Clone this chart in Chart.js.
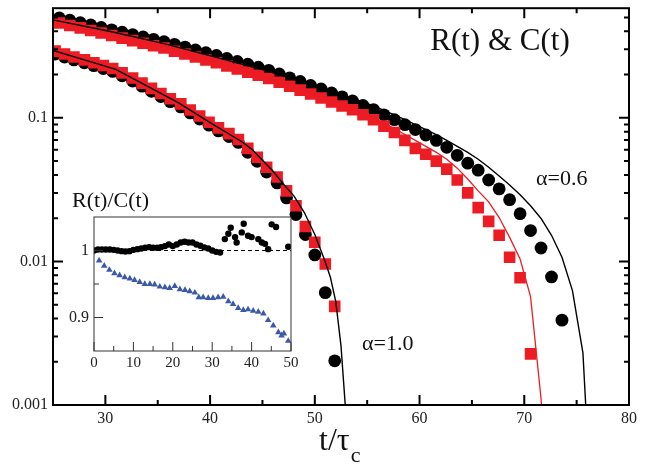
<!DOCTYPE html>
<html>
<head>
<meta charset="utf-8">
<script src="https://cdn.jsdelivr.net/npm/chart.js@4.4.1/dist/chart.umd.min.js"></script>
<style>
  html, body { margin: 0; padding: 0; background: #fff; }
  #wrap { position: relative; width: 658px; height: 468px; }
  #main { position: absolute; left: 0; top: 0; }
  #inset { position: absolute; left: 60px; top: 185px; }
</style>
</head>
<body>
<div id="wrap">
  <canvas id="main" width="658" height="468"></canvas>
  <canvas id="inset" width="240" height="195"></canvas>
</div>
<script>
// --- main panel: R(t) and C(t), log scale ---
const xTicks = [30, 40, 50, 60, 70, 80];
const xMinor = [35, 45, 55, 65, 75];
const yTicks = [0.001, 0.01, 0.1];
const yTickLabels = ['0.001', '0.01', '0.1'];

// alpha = 0.6
const tCirc06 = [25.6, 26.6, 27.6, 28.6, 29.6, 30.6, 31.6, 32.6, 33.6, 34.6, 35.6, 36.6, 37.6, 38.6, 39.6, 40.6, 41.6,
  42.6, 43.6, 44.6, 45.6, 46.6, 47.6, 48.6, 49.6, 50.6, 51.6, 52.6, 53.6, 54.6, 55.6, 56.6, 57.6, 58.6, 59.6, 60.6,
  61.6, 62.6, 63.6, 64.6, 65.6, 66.6, 67.6, 68.6, 69.6, 70.6, 71.6, 72.6, 73.6];
const circ06 = [0.496, 0.478, 0.460, 0.443, 0.426, 0.410, 0.395, 0.380, 0.366, 0.352, 0.339, 0.325, 0.311, 0.297,
  0.284, 0.272, 0.259, 0.247, 0.236, 0.225, 0.214, 0.202, 0.190, 0.179, 0.168, 0.159, 0.149, 0.140, 0.131, 0.122,
  0.114, 0.105, 0.0970, 0.0896, 0.0828, 0.0759, 0.0696, 0.0623, 0.0548, 0.0483, 0.0432, 0.0369, 0.0320, 0.0269,
  0.0215, 0.0164, 0.0124, 0.0078, 0.0039];
const tSq06 = tCirc06.slice(0, 46);
const sq06 = [0.458, 0.440, 0.423, 0.406, 0.390, 0.374, 0.359, 0.345, 0.331, 0.318, 0.306, 0.291, 0.278, 0.265,
  0.253, 0.242, 0.230, 0.219, 0.208, 0.198, 0.188, 0.177, 0.166, 0.156, 0.1465, 0.1375, 0.129, 0.121, 0.1137,
  0.105, 0.097, 0.0875, 0.079, 0.0696, 0.0613, 0.0557, 0.0499, 0.0439, 0.0369, 0.0300, 0.0237, 0.0190, 0.0152,
  0.0107, 0.0077, 0.00227];
const tFitBlack06 = [25, 30.6, 35.6, 40.6, 45.6, 50.6, 51.6, 52.6, 53.6, 54.6, 55.6, 56.6, 57.6, 58.6, 59.6, 60.6,
  61.6, 62.6, 63.6, 64.6, 65.6, 66.6, 67.6, 68.6, 69.6, 70.6, 71.6, 72.6, 73.6, 74.6, 75.6, 76.6];
const fitBlack06 = [0.481, 0.3975, 0.3286, 0.2633, 0.2109, 0.1611, 0.1524, 0.1442, 0.1364, 0.1290, 0.1211, 0.1128,
  0.1050, 0.0970, 0.0896, 0.0828, 0.0765, 0.0696, 0.0632, 0.0575, 0.0515, 0.0453, 0.0393, 0.0341, 0.0291, 0.0244,
  0.0199, 0.0152, 0.0107, 0.00626, 0.00231, 0.0001];
const tFitRed06 = [25, 30.6, 35.6, 40.6, 45.6, 50.6, 53.6, 54.6, 55.6, 56.6, 57.6, 58.6, 59.6, 60.6, 61.6, 62.6,
  63.6, 64.6, 65.6, 66.6, 67.6, 68.6, 69.6, 70.6, 71.6, 72.6];
const fitRed06 = [0.4658, 0.3791, 0.3133, 0.2471, 0.1918, 0.1419, 0.1164, 0.1084, 0.1001, 0.0918, 0.0841, 0.0765,
  0.0696, 0.0632, 0.0575, 0.0515, 0.0446, 0.0375, 0.0310, 0.0260, 0.0202, 0.0147, 0.0104, 0.00569, 0.00111, 0.0001];

// alpha = 1.0
const t10 = [25.2, 26.1, 27.0, 28.0, 28.9, 29.8, 30.7, 31.6, 32.6, 33.5, 34.4, 35.3, 36.2, 37.2, 38.1, 39.0, 39.9,
  40.8, 41.8, 42.7, 43.6, 44.5, 45.4, 46.4, 47.3, 48.2, 49.1, 50.0, 51.0, 51.9];
const sq10 = [0.2914, 0.2783, 0.2653, 0.2534, 0.2420, 0.2312, 0.2208, 0.2056, 0.1894, 0.1744, 0.1603, 0.1476,
  0.1359, 0.1250, 0.1135, 0.1029, 0.0932, 0.0851, 0.0776, 0.0707, 0.0613, 0.0531, 0.0453, 0.0387, 0.0310, 0.0244,
  0.0175, 0.0136, 0.0096, 0.00486];
const circ10 = [0.2779, 0.2653, 0.2531, 0.2416, 0.2308, 0.2204, 0.2105, 0.1961, 0.1805, 0.1662, 0.1529, 0.1408,
  0.1297, 0.1192, 0.1082, 0.0981, 0.0889, 0.0811, 0.0740, 0.0674, 0.0575, 0.0498, 0.0419, 0.0352, 0.0277, 0.0212,
  0.0154, 0.0111, 0.00606, 0.00203];
const tFit10 = [25, 28, 31, 34, 37, 40, 43, 44, 45, 46, 47, 48, 49, 50, 51, 51.5, 52, 52.5, 53];
const fit10 = [0.2942, 0.2531, 0.2177, 0.1662, 0.1270, 0.0925, 0.0684, 0.0603, 0.0507, 0.0426, 0.0346, 0.0286,
  0.0219, 0.0154, 0.0099, 0.00769, 0.00525, 0.00258, 0.0008];

// --- inset: R(t)/C(t) ---
const insetXTicks = [0, 10, 20, 30, 40, 50];
const insetXMinor = [5, 15, 25, 35, 45];
const insetYTicks = [0.9, 1];
const insetYTickLabels = ['0.9', '1'];
const insetYMinor = [0.95];
const tRatio06 = [0, 1, 2, 3, 4, 5, 6, 7, 8, 9, 10, 11, 12, 13, 14, 15, 16, 17, 18, 19, 20, 21, 22, 23, 24, 25, 26,
  27, 28, 29, 30, 31, 32, 33.2, 34.1, 34.7, 35.8, 36.2, 37.5, 38.0, 39.1, 40.0, 41.7, 42.6, 43.4, 44.2, 45.1, 46.2, 49.3];
const ratio06 = [1.000, 1.0015, 1.0015, 1.0015, 1.0015, 1.001, 1.000, 0.999, 0.9985, 0.999, 1.001, 1.002, 1.003,
  1.004, 1.005, 1.004, 1.004, 1.005, 1.0066, 1.009, 1.0066, 1.009, 1.012, 1.013, 1.012, 1.012, 1.009, 1.007, 1.0046,
  1.003, 1.000, 0.998, 0.997, 1.017, 1.025, 1.034, 1.020, 1.012, 1.027, 1.040, 1.022, 1.020, 1.017, 1.012, 1.0099,
  1.002, 1.039, 1.035, 1.0056];
const tRatio10 = [0, 1.3, 2.6, 3.9, 5.2, 6.5, 7.8, 9.1, 10.3, 11.6, 12.9, 14.2, 15.4, 16.7, 18.0, 19.2, 20.5, 21.8,
  23.1, 24.3, 25.6, 26.6, 27.7, 29.0, 30.2, 31.5, 32.8, 34.1, 35.3, 36.6, 37.9, 39.1, 40.4, 41.7, 43.0, 44.2, 45.5,
  46.8, 47.6, 48.2, 49.3];
const ratio10 = [1.0, 0.985, 0.977, 0.971, 0.966, 0.963, 0.960, 0.958, 0.956, 0.953, 0.950, 0.950, 0.949, 0.946,
  0.945, 0.944, 0.947, 0.942, 0.941, 0.939, 0.937, 0.930, 0.930, 0.929, 0.929, 0.930, 0.931, 0.924, 0.920, 0.914,
  0.911, 0.912, 0.910, 0.9085, 0.906, 0.896, 0.888, 0.878, 0.873, 0.876, 0.865];

const RED = '#ec1c24';
const BLUE = '#3a5aa8';
const SERIF = '"Liberation Serif", "DejaVu Serif", serif';

const pts = (xs, ys) => xs.map((x, i) => ({ x: x, y: ys[i] }));

// fixed box sizes, no label padding pushed into the plot area
const fixW = w => s => { s.width = w; s.paddingTop = 0; s.paddingBottom = 0; };
const fixH = h => s => { s.height = h; s.paddingLeft = 0; s.paddingRight = 0; };

// inward tick marks + frame
function drawTicks(ctx, a, xs, ys, xMaj, xMin, yMaj, yMin, lenMaj, lenMin, allSides) {
  ctx.beginPath();
  const vx = (v, len) => {
    const p = xs.getPixelForValue(v);
    ctx.moveTo(p, a.bottom); ctx.lineTo(p, a.bottom - len);
    if (allSides) { ctx.moveTo(p, a.top); ctx.lineTo(p, a.top + len); }
  };
  const vy = (v, len) => {
    const p = ys.getPixelForValue(v);
    ctx.moveTo(a.left, p); ctx.lineTo(a.left + len, p);
    if (allSides) { ctx.moveTo(a.right, p); ctx.lineTo(a.right - len, p); }
  };
  xMaj.forEach(v => vx(v, lenMaj));
  xMin.forEach(v => vx(v, lenMin));
  yMaj.forEach(v => vy(v, lenMaj));
  yMin.forEach(v => vy(v, lenMin));
  ctx.stroke();
  ctx.strokeRect(a.left, a.top, a.right - a.left, a.bottom - a.top);
}

const mainDecor = {
  id: 'mainDecor',
  afterDraw(chart) {
    const { ctx, chartArea: a, scales: { x, y } } = chart;
    const yMinor = [];
    [0.001, 0.01, 0.1].forEach(d => { for (let k = 2; k <= 9; k++) if (d * k <= y.max) yMinor.push(d * k); });
    ctx.save();
    ctx.strokeStyle = '#000';
    ctx.lineWidth = 2;
    drawTicks(ctx, a, x, y, xTicks, xMinor, yTicks, yMinor, 10, 5, true);

    ctx.fillStyle = '#111';
    ctx.textBaseline = 'alphabetic';
    ctx.font = '31px ' + SERIF;
    ctx.textAlign = 'center';
    ctx.fillText('R(t) & C(t)', 500, 50);
    ctx.textAlign = 'left';
    ctx.font = '22px ' + SERIF;
    ctx.fillText('α=0.6', 536, 185);
    ctx.fillText('α=1.0', 362, 350);
    ctx.font = '32px ' + SERIF;
    ctx.fillText('t/τ', 319, 450);
    const w = ctx.measureText('t/τ').width;
    ctx.font = '22px ' + SERIF;
    ctx.fillText('c', 319 + w + 1, 462);
    ctx.restore();
  }
};

new Chart(document.getElementById('main'), {
  type: 'scatter',
  data: {
    datasets: [
      { data: pts(tFitBlack06, fitBlack06), showLine: true, borderColor: '#000', borderWidth: 1.4, pointRadius: 0, order: 0 },
      { data: pts(tFitRed06, fitRed06), showLine: true, borderColor: RED, borderWidth: 1.3, pointRadius: 0, order: 0 },
      { data: pts(tFit10, fit10), showLine: true, borderColor: '#000', borderWidth: 1.4, pointRadius: 0, order: 0 },
      { data: pts(tSq06, sq06), pointStyle: 'rect', pointRadius: 8.2, backgroundColor: RED, borderWidth: 0, order: 1 },
      { data: pts(t10, sq10), pointStyle: 'rect', pointRadius: 8.2, backgroundColor: RED, borderWidth: 0, order: 1 },
      { data: pts(tCirc06, circ06), pointStyle: 'circle', pointRadius: 6.4, backgroundColor: '#000', borderWidth: 0, order: 2 },
      { data: pts(t10, circ10), pointStyle: 'circle', pointRadius: 6.4, backgroundColor: '#000', borderWidth: 0, order: 2 }
    ]
  },
  options: {
    responsive: false,
    animation: false,
    layout: { padding: { left: 0, right: 29, top: 1, bottom: 0 } },
    plugins: { legend: { display: false }, tooltip: { enabled: false } },
    scales: {
      x: {
        type: 'linear', min: 25, max: 80,
        grid: { display: false, drawTicks: false }, border: { display: false },
        afterBuildTicks: s => { s.ticks = xTicks.map(v => ({ value: v })); },
        afterFit: fixH(63),
        ticks: { autoSkip: false, maxRotation: 0, padding: 4, color: '#222',
          font: { family: SERIF, size: 16 }, callback: v => String(v) }
      },
      y: {
        type: 'logarithmic', min: 0.001, max: 0.58,
        grid: { display: false, drawTicks: false }, border: { display: false },
        afterBuildTicks: s => { s.ticks = yTicks.map(v => ({ value: v })); },
        afterFit: fixW(53),
        ticks: { autoSkip: false, padding: 5, color: '#222',
          font: { family: SERIF, size: 16 }, callback: v => yTickLabels[yTicks.indexOf(v)] }
      }
    }
  },
  plugins: [mainDecor]
});

const insetDecor = {
  id: 'insetDecor',
  beforeDatasetsDraw(chart) {
    const { ctx, chartArea: a } = chart;
    ctx.save();
    ctx.fillStyle = '#fff';
    ctx.fillRect(a.left, a.top, a.right - a.left, a.bottom - a.top);
    ctx.restore();
  },
  afterDraw(chart) {
    const { ctx, chartArea: a, scales: { x, y } } = chart;
    ctx.save();
    ctx.strokeStyle = '#333';
    ctx.lineWidth = 1;
    drawTicks(ctx, a, x, y, insetXTicks, insetXMinor, insetYTicks, insetYMinor, 9, 5, false);
    ctx.fillStyle = '#111';
    ctx.font = '22px ' + SERIF;
    ctx.textAlign = 'left';
    ctx.fillText('R(t)/C(t)', 12, 22);
    ctx.restore();
  }
};

new Chart(document.getElementById('inset'), {
  type: 'scatter',
  data: {
    datasets: [
      { data: pts(tRatio06, ratio06), pointStyle: 'circle', pointRadius: 3.2, backgroundColor: '#000', borderWidth: 0, order: 0 },
      { data: pts(tRatio10, ratio10), pointStyle: 'triangle', pointRadius: 3.8, backgroundColor: BLUE, borderWidth: 0, order: 1 },
      { data: [{ x: 0, y: 1 }, { x: 50, y: 1 }], showLine: true, borderColor: '#000', borderWidth: 1,
        borderDash: [4, 3], pointRadius: 0, order: 2 }
    ]
  },
  options: {
    responsive: false,
    animation: false,
    layout: { padding: { left: 0, right: 9, top: 32, bottom: 0 } },
    plugins: { legend: { display: false }, tooltip: { enabled: false } },
    scales: {
      x: {
        type: 'linear', min: 0, max: 50,
        grid: { display: false, drawTicks: false }, border: { display: false },
        afterBuildTicks: s => { s.ticks = insetXTicks.map(v => ({ value: v })); },
        afterFit: fixH(29),
        ticks: { autoSkip: false, maxRotation: 0, padding: 3, color: '#222',
          font: { family: SERIF, size: 15 }, callback: v => String(v) }
      },
      y: {
        type: 'linear', min: 0.85, max: 1.05,
        grid: { display: false, drawTicks: false }, border: { display: false },
        afterBuildTicks: s => { s.ticks = insetYTicks.map(v => ({ value: v })); },
        afterFit: fixW(34),
        ticks: { autoSkip: false, padding: 5, color: '#222',
          font: { family: SERIF, size: 16 }, callback: v => insetYTickLabels[insetYTicks.indexOf(v)] }
      }
    }
  },
  plugins: [insetDecor]
});
</script>
</body>
</html>
